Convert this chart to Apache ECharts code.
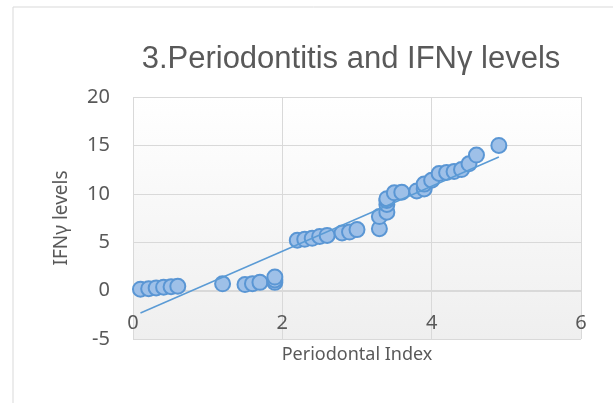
<!DOCTYPE html>
<html>
<head>
<meta charset="utf-8">
<script src="https://cdn.jsdelivr.net/npm/echarts@6/dist/echarts.min.js"></script>
<style>
html,body{margin:0;padding:0;background:#fff;}
#c{width:613px;height:403px;}
</style>
</head>
<body>
<div id="c"></div>
<script>
const titleText = "3.Periodontitis and IFNγ levels";
const xAxisTitle = "Periodontal Index";
const yAxisTitle = "IFNγ levels";

const periodontalIndex = [
  0.1, 0.21, 0.31, 0.41, 0.51, 0.6,
  1.2, 1.5, 1.6, 1.7, 1.9, 1.9, 1.9,
  2.2, 2.3, 2.4, 2.5, 2.6, 2.8, 2.9, 3.0,
  3.3, 3.3, 3.4, 3.4, 3.4, 3.4, 3.5, 3.6, 3.8, 3.9, 3.9, 4.0, 4.1, 4.2, 4.3, 4.4, 4.5, 4.6, 4.9
];
const ifnLevels = [
  0.15, 0.2, 0.28, 0.35, 0.4, 0.45,
  0.7, 0.62, 0.72, 0.85, 0.85, 1.1, 1.4,
  5.2, 5.3, 5.4, 5.6, 5.7, 5.95, 6.05, 6.3,
  6.4, 7.65, 8.1, 8.9, 9.3, 9.5, 10.1, 10.15, 10.3, 10.5, 11.0, 11.4, 12.1, 12.2, 12.3, 12.5, 13.1, 14.0, 15.0
];

// linear regression trendline (as Excel's linear trendline)
const n = periodontalIndex.length;
let sx=0, sy=0, sxx=0, sxy=0;
for (let i=0;i<n;i++){const x=periodontalIndex[i], y=ifnLevels[i]; sx+=x; sy+=y; sxx+=x*x; sxy+=x*y;}
const slope = (n*sxy - sx*sy)/(n*sxx - sx*sx);
const intercept = (sy - slope*sx)/n;
const xMin = Math.min(...periodontalIndex), xMax = Math.max(...periodontalIndex);
const trend = [[xMin, slope*xMin+intercept],[xMax, slope*xMax+intercept]];

const points = periodontalIndex.map((x,i)=>[x, ifnLevels[i]]);

const chart = echarts.init(document.getElementById('c'), null, {renderer:'canvas'});
const grid = '#d9d9d9';
const txt = '#595959';
chart.setOption({
  animation:false,
  backgroundColor:'#ffffff',
  title:{
    text:titleText, left:346, top:39, textAlign:'center',
    textStyle:{fontFamily:'Liberation Sans', fontSize:31, fontWeight:'normal', color:txt}
  },
  graphic:[{type:'rect', shape:{x:13,y:7,width:700,height:500}, style:{fill:'none', stroke:grid, lineWidth:1}, silent:true, z:-1}],
  grid:{left:133, top:97, width:448, height:242, show:true, borderWidth:0, containLabel:false, outerBoundsMode:'none',
    backgroundColor:{type:'linear',x:0,y:0,x2:0,y2:1,colorStops:[{offset:0,color:'#ffffff'},{offset:1,color:'#efefef'}]}},
  xAxis:{
    type:'value', min:0, max:6, interval:2, offset:-48,
    name:xAxisTitle, nameLocation:'middle', nameGap:55,
    nameTextStyle:{fontFamily:'Noto Sans', fontSize:18, color:txt},
    axisLine:{show:true, onZero:false, lineStyle:{color:grid, width:1}},
    axisTick:{show:false},
    axisLabel:{margin:22, fontFamily:'Noto Sans', fontSize:20, color:txt},
    splitLine:{show:true, lineStyle:{color:grid, width:1}}
  },
  yAxis:{
    type:'value', min:-5, max:20, interval:5,
    name:yAxisTitle, nameLocation:'middle', nameGap:62,
    nameTextStyle:{fontFamily:'Noto Sans', fontSize:19, color:txt},
    axisLine:{show:false}, axisTick:{show:false},
    axisLabel:{margin:23, fontFamily:'Noto Sans', fontSize:20, color:txt},
    splitLine:{show:true, lineStyle:{color:grid, width:1}}
  },
  series:[
    {type:'scatter', data:points, symbol:'circle', symbolSize:15,
     itemStyle:{color:'#9ec0e8', borderColor:'#5a96d4', borderWidth:2, opacity:1}, z:3},
    {type:'line', data:trend, symbol:'none', lineStyle:{color:'#5b9bd5', width:1.5}, z:4, silent:true}
  ]
});
</script>
</body>
</html>
